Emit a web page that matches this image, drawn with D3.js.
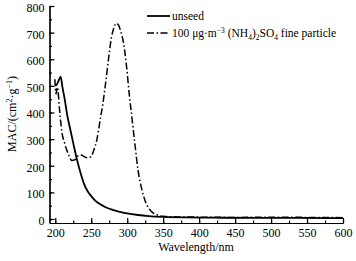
<!DOCTYPE html>
<html>
<head>
    <title>MAC spectra</title>
    <style>
        body { margin: 0; background: #ffffff; }
        svg text { font-family: "Liberation Serif", "Times New Roman", serif; fill: #000; }
        .tick text { font-size: 12px; }
        .axis path, .axis line { stroke: #000; stroke-width: 1.2; }
    </style>
    <script src="https://d3js.org/d3.v7.min.js"></script>
</head>
<body>
    <div id="chart"></div>
    <script>
        // unseed experiment
        var unseedWl  = [201, 204, 207.5, 210, 213, 217, 221, 225, 230, 235, 240, 245, 250, 256, 262, 270, 280, 290, 300, 315, 330, 350, 380, 420, 480, 540, 600];
        var unseedMac = [500, 515, 535, 495, 452, 385, 335, 285, 225, 175, 132, 104, 86, 68, 56, 44, 34, 27, 21, 15, 11, 8, 6, 5, 4, 4, 3];

        // 100 ug/m3 (NH4)2SO4 seed
        var seedWl  = [199.5, 201, 203, 206, 209, 213, 218, 223, 227, 231, 236, 241, 246, 250, 254, 258, 262, 266, 270, 274, 278, 282, 285, 288, 291, 295, 299, 303, 307, 311, 315, 320, 325, 330, 335, 342, 350, 370, 400, 450, 500, 550, 600];
        var seedMac = [525, 470, 495, 410, 330, 285, 245, 220, 222, 236, 240, 233, 230, 235, 262, 300, 365, 430, 510, 600, 680, 722, 735, 728, 705, 660, 575, 465, 370, 275, 185, 115, 68, 40, 25, 15, 10, 8, 7, 6, 7, 6, 5];

        var xMajor = [200, 250, 300, 350, 400, 450, 500, 550, 600];
        var yMajor = [0, 100, 200, 300, 400, 500, 600, 700, 800];

        var width = 356, height = 261;

        var svg = d3.select('#chart')
            .append('svg')
            .attr('width', width)
            .attr('height', height);

        var x = d3.scaleLinear().domain([192, 600]).range([49.5, 343]);
        var y = d3.scaleLinear().domain([-15, 800]).range([223, 6]);

        // minor ticks
        svg.append('g')
            .attr('class', 'axis')
            .attr('transform', 'translate(0,223)')
            .call(d3.axisBottom(x).tickValues(d3.range(200, 601, 25)).tickSize(-2.5).tickSizeOuter(0).tickFormat(''));
        svg.append('g')
            .attr('class', 'axis')
            .attr('transform', 'translate(49.5,0)')
            .call(d3.axisLeft(y).tickValues(d3.range(0, 801, 50)).tickSize(-2.5).tickSizeOuter(0).tickFormat(''));

        // major ticks
        svg.append('g')
            .attr('class', 'axis')
            .attr('transform', 'translate(0,223)')
            .call(d3.axisBottom(x).tickValues(xMajor).tickSize(-5).tickSizeOuter(0).tickPadding(5));
        svg.append('g')
            .attr('class', 'axis')
            .attr('transform', 'translate(49.5,0)')
            .call(d3.axisLeft(y).tickValues(yMajor).tickSize(-5).tickSizeOuter(0).tickPadding(5))
            .selectAll('.tick text').attr('dy', '0.45em');

        var line = d3.line()
            .x(function(d) { return x(d[0]); })
            .y(function(d) { return y(d[1]); })
            .curve(d3.curveMonotoneX);

        svg.append('path')
            .datum(d3.zip(seedWl, seedMac))
            .attr('d', line)
            .attr('fill', 'none')
            .attr('stroke', '#000')
            .attr('stroke-width', 1.5)
            .attr('stroke-dasharray', '7,2.5,1.5,2.5');

        svg.append('path')
            .datum(d3.zip(unseedWl, unseedMac))
            .attr('d', line)
            .attr('fill', 'none')
            .attr('stroke', '#000')
            .attr('stroke-width', 1.8);

        // axis titles
        svg.append('text')
            .attr('x', 196)
            .attr('y', 251)
            .style('font-size', '12px')
            .style('text-anchor', 'middle')
            .text('Wavelength/nm');

        var yt = svg.append('text')
            .attr('transform', 'translate(16,114) rotate(-90)')
            .style('font-size', '12px')
            .style('text-anchor', 'middle');
        yt.append('tspan').text('MAC/(cm');
        yt.append('tspan').attr('dy', -4).style('font-size', '8px').text('2');
        yt.append('tspan').attr('dy', 4).text('·g');
        yt.append('tspan').attr('dy', -4).style('font-size', '8px').text('−1');
        yt.append('tspan').attr('dy', 4).text(')');

        // legend
        svg.append('line')
            .attr('x1', 147).attr('x2', 170).attr('y1', 16).attr('y2', 16)
            .attr('stroke', '#000').attr('stroke-width', 1.8);
        svg.append('text')
            .attr('x', 172).attr('y', 20)
            .style('font-size', '11.5px')
            .text('unseed');

        svg.append('line')
            .attr('x1', 147).attr('x2', 170).attr('y1', 33).attr('y2', 33)
            .attr('stroke', '#000').attr('stroke-width', 1.5)
            .attr('stroke-dasharray', '7,2.5,1.5,2.5');
        var lt = svg.append('text')
            .attr('x', 172).attr('y', 37)
            .style('font-size', '11.5px');
        lt.append('tspan').text('100 μg·m');
        lt.append('tspan').attr('dy', -4).style('font-size', '7.5px').text('−3');
        lt.append('tspan').attr('dy', 4).text(' (NH');
        lt.append('tspan').attr('dy', 3).style('font-size', '7.5px').text('4');
        lt.append('tspan').attr('dy', -3).text(')');
        lt.append('tspan').attr('dy', 3).style('font-size', '7.5px').text('2');
        lt.append('tspan').attr('dy', -3).text('SO');
        lt.append('tspan').attr('dy', 3).style('font-size', '7.5px').text('4');
        lt.append('tspan').attr('dy', -3).text(' fine particle');
    </script>
</body>
</html>
